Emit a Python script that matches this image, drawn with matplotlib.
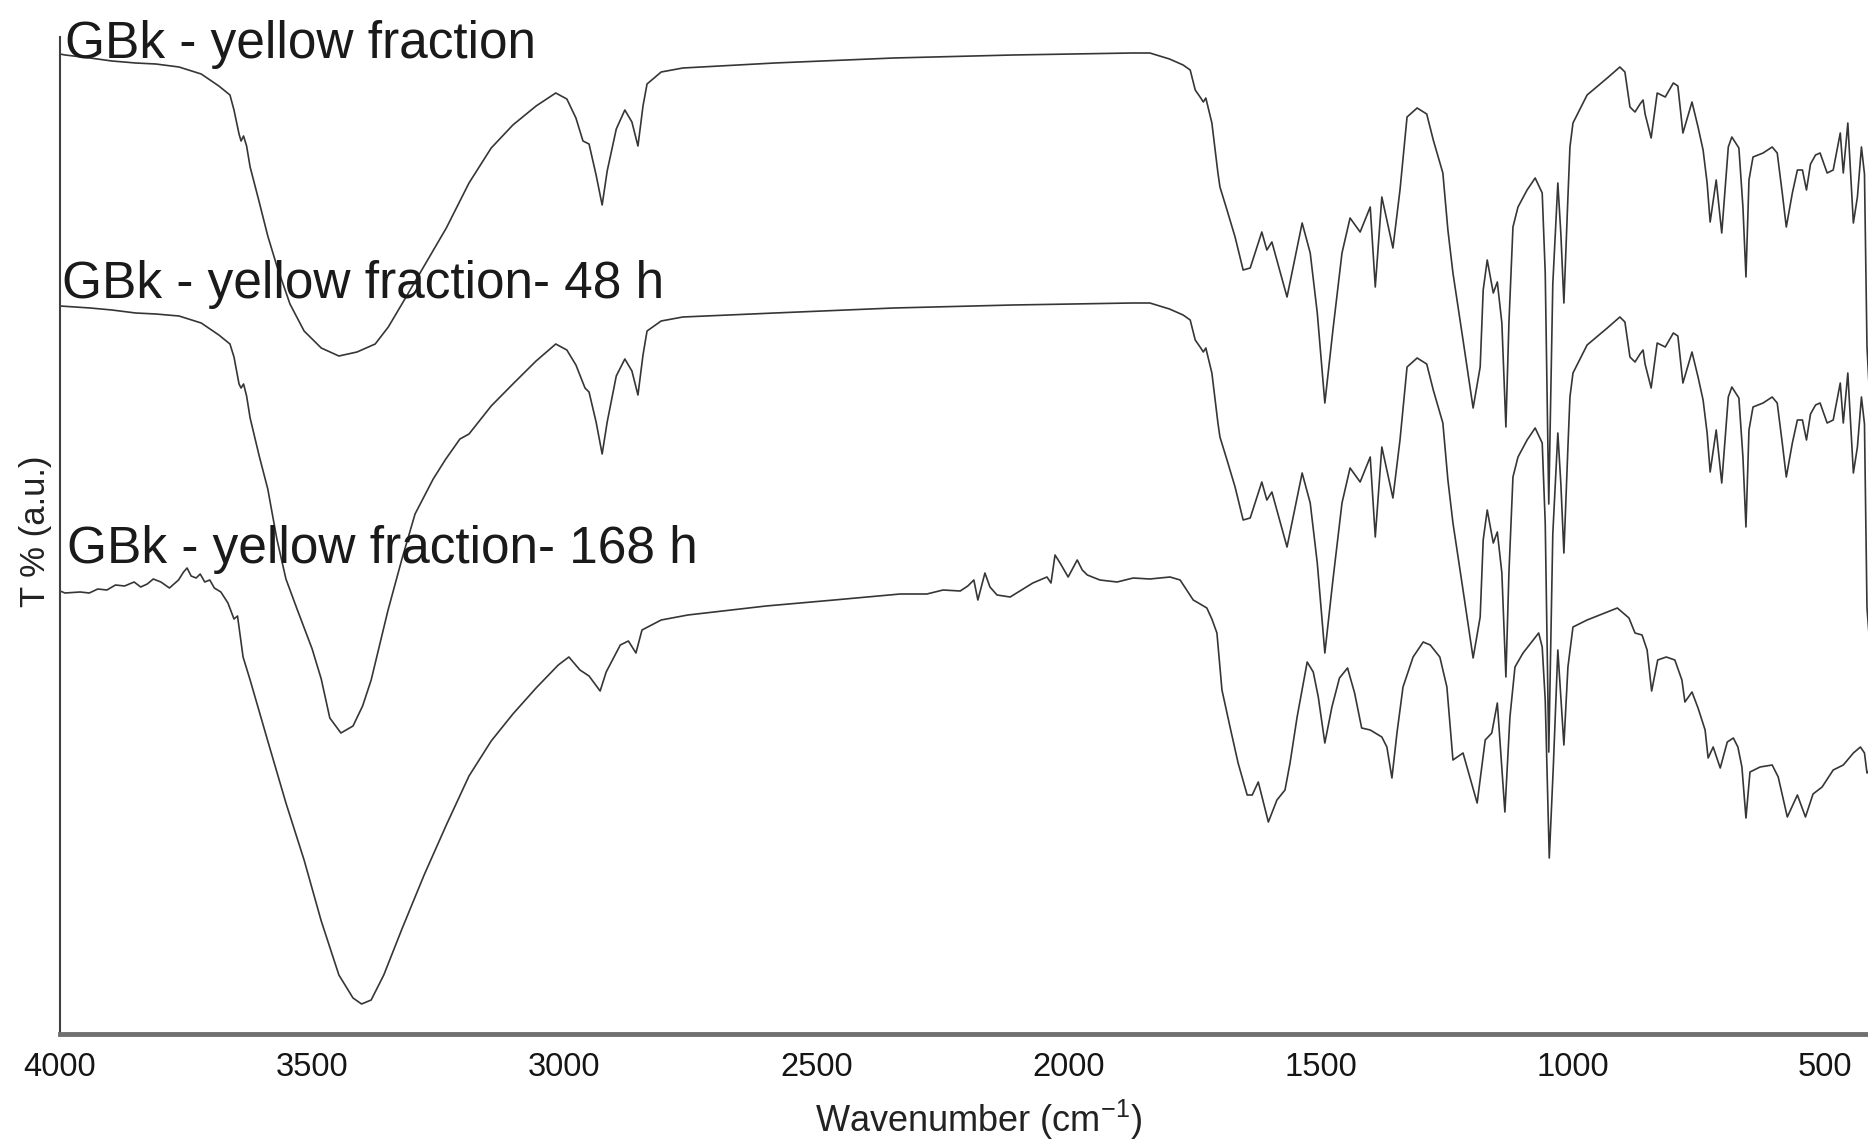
import numpy as np
import matplotlib.pyplot as plt

plt.rcParams['font.family'] = ['Liberation Sans', 'DejaVu Sans']
plt.rcParams['mathtext.fontset'] = 'custom'
plt.rcParams['mathtext.rm'] = 'Liberation Sans'
plt.rcParams['mathtext.it'] = 'Liberation Sans:italic'

# --- GBk - yellow fraction (top trace), wavenumber / T (a.u.)
top_wn = [4000, 3990, 3940, 3897, 3850, 3810, 3764, 3720, 3685, 3663, 3655, 3645, 3641, 3636, 3630,
          3623, 3605, 3588, 3570, 3544, 3516, 3482, 3447, 3411, 3375, 3349, 3322, 3278, 3234, 3189,
          3145, 3102, 3056, 3017, 2995, 2977, 2963, 2951, 2937, 2925, 2915, 2897, 2880, 2866, 2854,
          2844, 2836, 2808, 2765, 2583, 2347, 2111, 1874,
          1839, 1800, 1773, 1759, 1749, 1738, 1733, 1728, 1716, 1704, 1700, 1686, 1670, 1654, 1640,
          1617, 1607, 1597, 1567, 1537, 1521, 1507, 1492, 1476, 1458, 1442, 1422, 1402, 1392, 1379,
          1357, 1343, 1329, 1309, 1290, 1277, 1258, 1248, 1238, 1218, 1198, 1184, 1178, 1170, 1158,
          1150, 1141, 1133, 1127, 1119, 1109, 1091, 1075, 1061, 1055, 1048, 1040, 1030, 1024, 1018,
          1010, 1006, 1000, 972, 932, 907, 897, 887, 877, 867, 861, 857, 845, 833, 817, 801, 792,
          782, 764, 752, 742, 734, 728, 716, 705, 692, 685, 671, 663, 657, 651, 643, 623, 605, 595,
          585, 577, 565, 555, 545, 537, 529, 519, 510, 496, 484, 470, 464, 455, 444, 436, 428, 422,
          417, 410]
top_t = [98.0, 97.9, 97.6, 97.3, 97.1, 97.0, 96.7, 96.0, 94.8, 93.9, 92.4, 90.0, 89.3, 89.8, 88.8,
         86.7, 83.2, 79.8, 76.8, 73.0, 70.3, 68.6, 67.8, 68.2, 69.0, 70.7, 73.0, 76.8, 80.6, 85.1,
         88.6, 90.9, 92.8, 94.1, 93.5, 91.6, 89.3, 89.0, 85.9, 82.9, 86.3, 90.5, 92.4, 91.2, 88.8,
         92.8, 95.0, 96.2, 96.6, 97.1, 97.6, 97.9, 98.1,
         98.1, 97.5, 96.9, 96.4, 94.4, 93.6, 93.2, 93.6, 91.1, 86.1, 84.7, 82.4, 79.7, 76.4, 76.6,
         80.2, 78.4, 79.2, 73.7, 81.1, 78.1, 72.1, 63.1, 70.4, 78.1, 81.6, 80.2, 82.7, 74.7, 83.7,
         78.6, 84.4, 91.7, 92.6, 92.0, 89.4, 86.1, 80.4, 76.1, 69.4, 62.6, 66.7, 74.4, 77.4, 74.1,
         75.2, 71.1, 60.7, 71.1, 80.7, 82.7, 84.4, 85.6, 84.1, 76.1, 53.0, 75.0, 85.1, 80.0, 73.1,
         83.7, 88.7, 91.1, 93.9, 95.6, 96.7, 96.2, 92.7, 92.2, 93.0, 93.4, 92.0, 89.6, 94.1, 93.7,
         95.1, 94.8, 90.1, 93.2, 90.7, 88.4, 85.1, 81.2, 85.4, 80.1, 88.7, 89.7, 88.6, 82.7, 75.7,
         85.4, 87.7, 88.1, 88.7, 88.1, 84.1, 80.7, 84.1, 86.4, 86.4, 84.4, 87.0, 87.9, 88.1, 86.1,
         86.4, 90.1, 86.1, 91.1, 81.1, 83.7, 88.7, 86.0, 68.7, 62.0]

# --- GBk - yellow fraction- 48 h (middle trace)
mid_wn = [4000, 3940, 3897, 3850, 3810, 3764, 3720, 3685, 3663, 3655, 3645, 3641, 3636, 3630, 3623,
          3605, 3588, 3570, 3552, 3530, 3500, 3482, 3465, 3443, 3419, 3400, 3383, 3350, 3322, 3296,
          3260, 3235, 3207, 3189, 3145, 3102, 3056, 3017, 2995, 2977, 2959, 2951, 2937, 2925, 2915,
          2897, 2880, 2866, 2854, 2844, 2836, 2808, 2765, 2583, 2347, 2111, 1874,
          1839, 1800, 1773, 1759, 1749, 1738, 1733, 1728, 1716, 1704, 1700, 1686, 1670, 1654, 1640,
          1617, 1607, 1597, 1567, 1537, 1521, 1507, 1492, 1476, 1458, 1442, 1422, 1402, 1392, 1379,
          1357, 1343, 1329, 1309, 1290, 1277, 1258, 1248, 1238, 1218, 1198, 1184, 1178, 1170, 1158,
          1150, 1141, 1133, 1127, 1119, 1109, 1091, 1075, 1061, 1055, 1048, 1040, 1030, 1024, 1018,
          1010, 1006, 1000, 972, 932, 907, 897, 887, 877, 867, 861, 857, 845, 833, 817, 801, 792,
          782, 764, 752, 742, 734, 728, 716, 705, 692, 685, 671, 663, 657, 651, 643, 623, 605, 595,
          585, 577, 565, 555, 545, 537, 529, 519, 510, 496, 484, 470, 464, 455, 444, 436, 428, 422,
          417, 410]
mid_t = [72.8, 72.6, 72.4, 72.1, 72.0, 71.8, 71.1, 69.9, 69.0, 67.7, 65.0, 64.6, 65.0, 63.8, 61.6,
         57.8, 54.5, 49.5, 45.5, 42.5, 38.5, 35.5, 31.6, 30.1, 30.8, 32.8, 35.4, 42.3, 47.5, 52.0,
         55.5, 57.5, 59.5, 60.0, 62.8, 65.0, 67.3, 69.0, 68.4, 66.9, 64.6, 64.2, 61.2, 58.0, 61.2,
         65.8, 67.5, 66.3, 63.9, 67.9, 70.3, 71.3, 71.7, 72.1, 72.6, 72.9, 73.1,
         73.1, 72.5, 71.9, 71.4, 69.4, 68.6, 68.2, 68.6, 66.1, 61.1, 59.7, 57.4, 54.7, 51.4, 51.6,
         55.2, 53.4, 54.2, 48.7, 56.1, 53.1, 47.1, 38.1, 45.4, 53.1, 56.6, 55.2, 57.7, 49.7, 58.7,
         53.6, 59.4, 66.7, 67.6, 67.0, 64.4, 61.1, 55.4, 51.1, 44.4, 37.6, 41.7, 49.4, 52.4, 49.1,
         50.2, 46.1, 35.7, 46.1, 55.7, 57.7, 59.4, 60.6, 59.1, 51.1, 28.2, 50.0, 60.1, 55.0, 48.1,
         58.7, 63.7, 66.1, 68.9, 70.6, 71.7, 71.2, 67.7, 67.2, 68.0, 68.4, 67.0, 64.6, 69.1, 68.7,
         70.1, 69.8, 65.1, 68.2, 65.7, 63.4, 60.1, 56.2, 60.4, 55.1, 63.7, 64.7, 63.6, 57.7, 50.7,
         60.4, 62.7, 63.1, 63.7, 63.1, 59.1, 55.7, 59.1, 61.4, 61.4, 59.4, 62.0, 62.9, 63.1, 61.1,
         61.4, 65.1, 61.1, 66.1, 56.1, 58.7, 63.7, 61.0, 42.6, 38.0]

# --- GBk - yellow fraction- 168 h (bottom trace)
bot_wn = [4000, 3990, 3960, 3942, 3925, 3907, 3890, 3872, 3853, 3840, 3827, 3815, 3800, 3783, 3765,
          3755, 3748, 3740, 3730, 3722, 3713, 3703, 3694, 3681, 3667, 3655, 3648, 3637, 3623, 3588,
          3552, 3516, 3482, 3447, 3419, 3402, 3383, 3358, 3322, 3278, 3234, 3189, 3145, 3102, 3056,
          3012, 2991, 2969, 2951, 2929, 2917, 2889, 2873, 2858, 2846, 2808, 2755, 2600, 2465, 2334,
          2281, 2249, 2215, 2200, 2188, 2180, 2166, 2156, 2142, 2116, 2071, 2043, 2035, 2027, 2017,
          2008, 2001, 1983, 1973, 1963, 1938, 1904, 1872, 1839, 1799, 1779, 1753, 1746, 1726, 1716,
          1706, 1696, 1680, 1664, 1646, 1636, 1624, 1604, 1587, 1571, 1561, 1547, 1527, 1515, 1505,
          1492, 1478, 1463, 1447, 1433, 1419, 1402, 1379, 1369, 1359, 1349, 1337, 1317, 1297, 1283,
          1264, 1250, 1238, 1218, 1190, 1174, 1161, 1150, 1135, 1125, 1115, 1099, 1068, 1061, 1055,
          1047, 1039, 1030, 1018, 1010, 1000, 972, 932, 912, 889, 877, 863, 853, 844, 832, 815, 798,
          784, 778, 764, 752, 738, 732, 722, 708, 694, 682, 673, 665, 657, 649, 629, 605, 593, 575,
          555, 539, 524, 506, 484, 464, 444, 430, 422, 417, 410]
bot_t = [44.3, 44.1, 44.2, 44.1, 44.5, 44.4, 44.9, 44.8, 45.2, 44.7, 45.0, 45.5, 45.2, 44.6, 45.4,
         46.2, 46.6, 45.8, 45.6, 46.0, 45.2, 45.4, 44.6, 44.2, 43.1, 41.5, 41.8, 37.7, 35.4, 29.3,
         23.1, 17.4, 11.3, 5.9, 3.6, 3.0, 3.4, 5.9, 10.5, 15.9, 20.9, 25.8, 29.3, 32.0, 34.6,
         36.9, 37.7, 36.4, 35.8, 34.3, 36.2, 38.9, 39.3, 38.1, 40.4, 41.4, 41.9, 42.8, 43.4, 44.0,
         44.0, 44.4, 44.3, 44.8, 45.4, 43.4, 46.1, 44.7, 43.9, 43.7, 45.1, 45.7, 45.1, 47.9, 47.1,
         46.3, 45.7, 47.4, 46.4, 45.9, 45.4, 45.2, 45.6, 45.5, 45.7, 45.4, 43.4, 43.2, 42.6, 41.5,
         40.1, 34.4, 30.7, 27.1, 23.9, 23.9, 25.2, 21.2, 23.4, 24.4, 27.1, 31.7, 37.2, 36.2, 33.7,
         29.1, 32.7, 35.6, 36.6, 34.1, 30.6, 30.4, 29.7, 28.7, 25.6, 30.1, 34.7, 37.7, 39.2, 38.9,
         37.7, 34.7, 27.4, 28.1, 23.1, 29.4, 30.1, 33.1, 22.2, 31.7, 36.7, 38.1, 40.1, 38.7, 33.4,
         17.6, 26.7, 38.4, 28.9, 36.7, 40.7, 41.4, 42.2, 42.6, 41.6, 40.1, 39.9, 38.4, 34.3, 37.4,
         37.7, 37.4, 35.4, 33.2, 34.2, 32.6, 30.4, 27.6, 28.7, 26.6, 29.2, 29.6, 28.7, 26.7, 21.6,
         26.2, 26.7, 26.9, 25.7, 21.7, 23.9, 21.7, 24.0, 24.7, 26.4, 26.9, 28.1, 28.7, 28.1, 26.1,
         26.5]

labels = ['GBk - yellow fraction', 'GBk - yellow fraction- 48 h', 'GBk - yellow fraction- 168 h']
label_pos = [(3990, 97.6), (3996, 73.6), (3986, 47.1)]
xticks = [4000, 3500, 3000, 2500, 2000, 1500, 1000, 500]

W, H = 1868, 1144
fig = plt.figure(figsize=(W / 100, H / 100), dpi=100)
ax = fig.add_axes([60 / W, 1 - 1034 / H, 1 - 60 / W, (1034 - 37) / H])

line_color = '#363636'
for wn, t in [(top_wn, top_t), (mid_wn, mid_t), (bot_wn, bot_t)]:
    ax.plot(wn, t, color=line_color, lw=1.2)

for txt, (x, y) in zip(labels, label_pos):
    ax.text(x, y, txt, fontsize=37, va='baseline', ha='left', color='#1a1a1a')

ax.set_xlim(4000, 415)
ax.set_ylim(0, 99.7)
ax.set_xticks(xticks)
ax.set_xticklabels([str(v) for v in xticks])
ax.set_yticks([])
ax.tick_params(axis='x', length=0, pad=13, labelsize=23.5, labelcolor='#151515')

ax.spines['top'].set_visible(False)
ax.spines['right'].set_visible(False)
ax.spines['bottom'].set_linewidth(3.5)
ax.spines['bottom'].set_color('#707070')
ax.spines['left'].set_linewidth(1.5)
ax.spines['left'].set_color('#404040')

fig.text(979 / W, 1 - 1120 / H, r'Wavenumber (cm$^{-1}$)', fontsize=26,
         ha='center', va='center', color='#222222')
fig.text(36 / W, 1 - 531 / H, 'T % (a.u.)', fontsize=25, rotation=90,
         ha='center', va='center', color='#222222')

fig.savefig('out.png', dpi=100)
